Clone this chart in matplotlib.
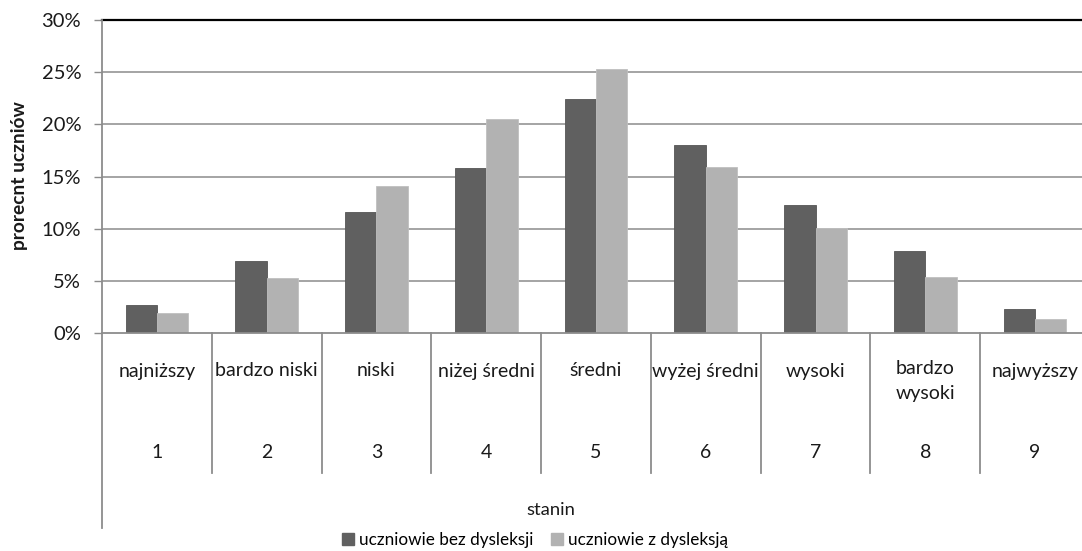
import matplotlib
matplotlib.use("Agg")
import matplotlib.pyplot as plt
from matplotlib.ticker import FuncFormatter
from matplotlib.patches import Patch

plt.rcParams['font.family'] = ['Lato', 'DejaVu Sans']

categories = ["najniższy", "bardzo niski", "niski", "niżej średni", "średni",
              "wyżej średni", "wysoki", "bardzo\nwysoki", "najwyższy"]
stanins = ["1", "2", "3", "4", "5", "6", "7", "8", "9"]
bez_dysleksji = [2.7, 6.9, 11.6, 15.8, 22.4, 18.0, 12.3, 7.9, 2.3]
z_dysleksja = [1.9, 5.3, 14.1, 20.5, 25.3, 15.9, 10.1, 5.4, 1.3]
series_names = ["uczniowie bez dysleksji", "uczniowie z dysleksją"]
yticks = [0, 5, 10, 15, 20, 25, 30]

W, H = 1082, 551
fig = plt.figure(figsize=(W / 100, H / 100), dpi=100)
x0, x1, ytop, ybot = 102, 1090, 20, 333
ax = fig.add_axes([x0 / W, 1 - ybot / H, (x1 - x0) / W, (ybot - ytop) / H])

dark = "#606060"
light = "#b2b2b2"
grid_c = "#8c8c8c"
txt_c = "#1a1a1a"
fs = 14
n = len(categories)
centers = [i + 0.5 for i in range(n)]
bw = 0.285
ax.bar([c - bw / 2 for c in centers], bez_dysleksji, width=bw, color=dark,
       edgecolor="#555555", linewidth=0.6, zorder=3, label=series_names[0])
ax.bar([c + bw / 2 for c in centers], z_dysleksja, width=bw, color=light,
       edgecolor="#c0c0c0", linewidth=0.6, zorder=3, label=series_names[1])

ax.set_xlim(0, n)
ax.set_ylim(0, 30)
ax.set_yticks(yticks)
ax.yaxis.set_major_formatter(FuncFormatter(lambda v, p: f"{int(v)}%"))
ax.set_xticks([])
ax.tick_params(axis='y', length=6, width=1, color=grid_c, labelsize=14.5,
               pad=9, labelcolor=txt_c)
for v in yticks[1:-1]:
    ax.axhline(v, color=grid_c, lw=1.1, zorder=1)
for s in ["left", "right", "bottom"]:
    ax.spines[s].set_visible(False)
ax.spines["top"].set_color("black")
ax.spines["top"].set_linewidth(1.6)
ax.axhline(0, color=grid_c, lw=1.3, zorder=4, clip_on=False)

px = 30 / (ybot - ytop)  # data units per pixel
# left axis line extended down
ax.plot([0, 0], [30, -(528 - ybot) * px], color=grid_c, lw=1.3, clip_on=False, zorder=4)
# category separators
for k in range(1, n + 1):
    ax.plot([k, k], [0, -(473 - ybot) * px], color=grid_c, lw=1.3, clip_on=False)

for c, lab, st in zip(centers, categories, stanins):
    if "\n" in lab:
        ax.text(c, -(381 - ybot) * px, lab, ha="center", va="center", fontsize=fs,
                linespacing=1.6, color=txt_c)
    else:
        ax.text(c, -(371 - ybot) * px, lab, ha="center", va="center", fontsize=fs,
                color=txt_c)
    ax.text(c, -(453 - ybot) * px, st, ha="center", va="center", fontsize=fs,
            color=txt_c)

fig.text(551 / W, 1 - 510 / H, "stanin", ha="center", va="center", fontsize=13.3,
         color=txt_c)
fig.text(20 / W, 1 - 176 / H, "prorecnt uczniów", rotation=90, ha="center",
         va="center", fontsize=13.8, fontweight="bold", color=txt_c)

handles = [Patch(facecolor=dark, edgecolor=dark), Patch(facecolor=light, edgecolor=light)]
fig.legend(handles, series_names, loc="center", bbox_to_anchor=(535 / W, 1 - 540 / H),
           ncol=2, frameon=False, fontsize=12.3, handlelength=0.7, handleheight=0.7,
           handletextpad=0.3, columnspacing=1.0, borderaxespad=0, borderpad=0)

fig.savefig("out.png", dpi=100)
